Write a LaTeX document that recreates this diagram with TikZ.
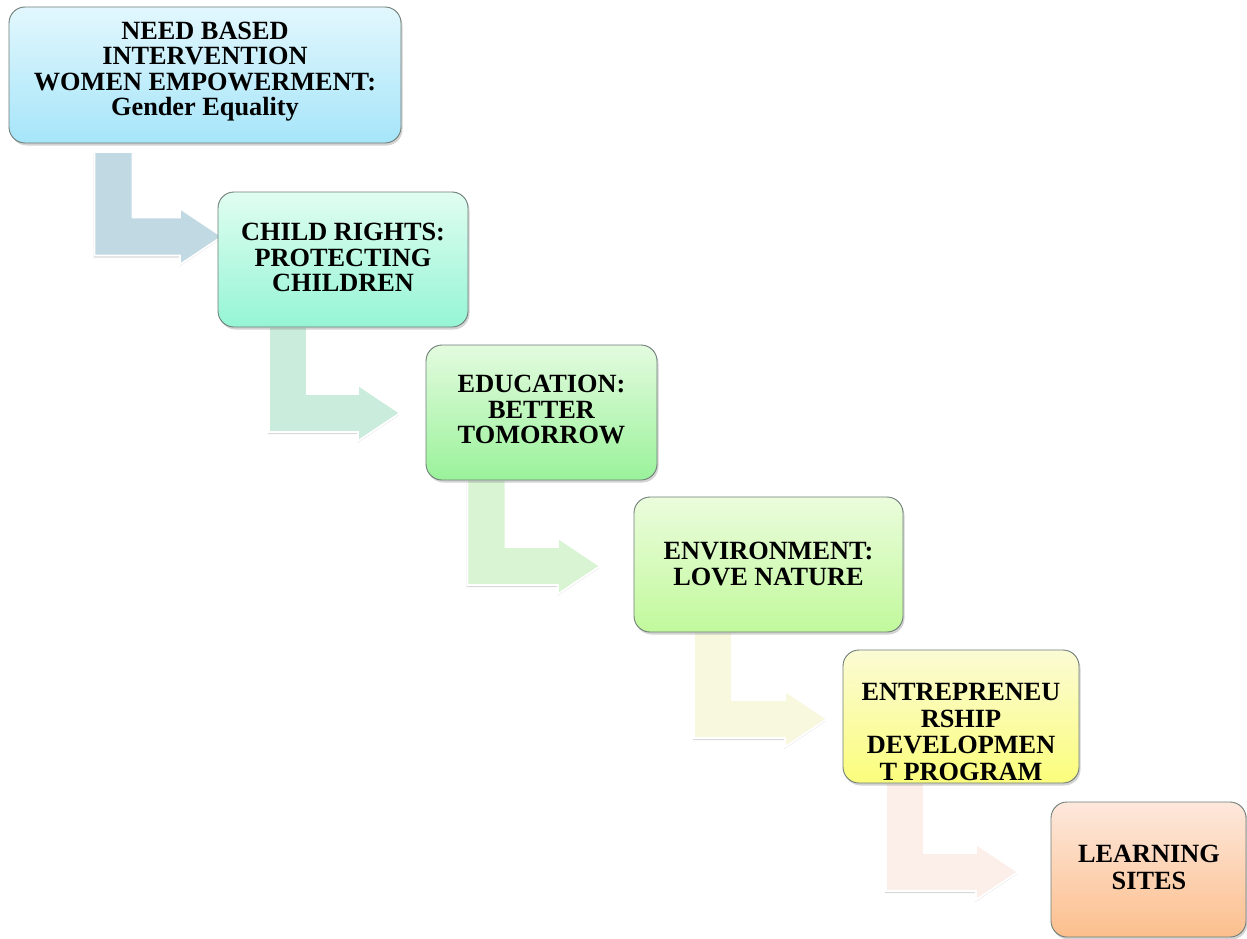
\documentclass[tikz,border=0pt]{standalone}
\usepackage{fontspec}
\setmainfont{Liberation Serif}
\usetikzlibrary{calc,shadows}
\pgfdeclarelayer{background}
\pgfsetlayers{background,main}
\definecolor{boxline}{HTML}{6E7D78}
\definecolor{aA}{HTML}{C0D9E2}
\definecolor{aB}{HTML}{C9ECDC}
\definecolor{aC}{HTML}{D9F4D3}
\definecolor{aD}{HTML}{F7F8DE}
\definecolor{aE}{HTML}{FCEFE9}
\definecolor{bAt}{HTML}{E2F7FD}\definecolor{bAb}{HTML}{A6E5F9}
\definecolor{bBt}{HTML}{E0FDF1}\definecolor{bBb}{HTML}{95F5D5}
\definecolor{bCt}{HTML}{E3FBDF}\definecolor{bCb}{HTML}{9AF29A}
\definecolor{bDt}{HTML}{EBFCDC}\definecolor{bDb}{HTML}{C1F99C}
\definecolor{bEt}{HTML}{FBFBD5}\definecolor{bEb}{HTML}{FBFD7C}
\definecolor{bFt}{HTML}{FDE8DC}\definecolor{bFb}{HTML}{FCBF8D}
\tikzset{
  box/.style={rectangle, rounded corners=16pt, draw=boxline, line width=0.9pt,
    outer sep=0pt, inner sep=0pt,
    drop shadow={opacity=0.35, shadow xshift=1.5pt, shadow yshift=-2.5pt}},
  txt/.style={anchor=north, align=center, inner sep=0pt,
    font=\fontsize{26.3}{25.5}\selectfont\bfseries},
  arrowbody/.style={draw=white, line width=1.8pt, line join=miter,
    drop shadow={opacity=0.3, shadow xshift=-0.8pt, shadow yshift=-2pt}}
}
\newcommand{\bentarrow}[3]{%
  \path[arrowbody, fill=#3] let \p1=#1, \p2=#2 in
    (\x1-19pt,\y1) -- (\x1+19pt,\y1) -- (\x1+19pt,\y2+19pt)
    -- (\x2-42pt,\y2+19pt) -- (\x2-42pt,\y2+28pt) -- (\x2,\y2)
    -- (\x2-42pt,\y2-28pt) -- (\x2-42pt,\y2-19pt) -- (\x1-19pt,\y2-19pt) -- cycle;}
\begin{document}
\begin{tikzpicture}[x=1pt, y=-1pt]
\useasboundingbox (0,0) rectangle (1247,939);
% boxes
\node[box, minimum width=392pt, minimum height=136pt, top color=bAt, bottom color=bAb] (b1) at (205,75) {};
\node[box, minimum width=250pt, minimum height=135pt, top color=bBt, bottom color=bBb] (b2) at (343,259.5) {};
\node[box, minimum width=231pt, minimum height=135pt, top color=bCt, bottom color=bCb] (b3) at (541.5,412.5) {};
\node[box, minimum width=269pt, minimum height=135pt, top color=bDt, bottom color=bDb] (b4) at (768.5,564.5) {};
\node[box, minimum width=236pt, minimum height=133pt, top color=bEt, bottom color=bEb] (b5) at (961,716.5) {};
\node[box, minimum width=195pt, minimum height=135pt, top color=bFt, bottom color=bFb] (b6) at (1148.5,869.5) {};
% texts
\node[txt, font=\fontsize{26.3}{25.2}\selectfont\bfseries] (t1) at (205,22) {NEED BASED\\INTERVENTION\\WOMEN EMPOWERMENT:\\Gender Equality};
\node[txt] (t2) at (343,223) {CHILD RIGHTS:\\PROTECTING\\CHILDREN};
\node[txt] (t3) at (541.5,375) {EDUCATION:\\BETTER\\TOMORROW};
\node[txt, font=\fontsize{26.3}{26.2}\selectfont\bfseries] (t4) at (768.5,542) {ENVIRONMENT:\\LOVE NATURE};
\node[txt, font=\fontsize{26.3}{26.7}\selectfont\bfseries] (t5) at (961,683) {ENTREPRENEU\\RSHIP\\DEVELOPMEN\\T PROGRAM};
\node[txt, font=\fontsize{26.3}{27}\selectfont\bfseries] (t6) at (1149,845) {LEARNING\\SITES};
% arrows
\begin{pgfonlayer}{background}
\bentarrow{($(b1.south west)+(104.5,9)$)}{($(b2.west)+(4,-23)$)}{aA}
\bentarrow{($(b2.south west)+(70,0)$)}{($(b3.west)+(-26,0.5)$)}{aB}
\bentarrow{($(b3.south west)+(60.5,0)$)}{($(b4.west)+(-34,1.5)$)}{aC}
\bentarrow{($(b4.south west)+(79,0)$)}{($(b5.west)+(-16,2.5)$)}{aD}
\bentarrow{($(b5.south west)+(62,0)$)}{($(b6.west)+(-33,2.5)$)}{aE}
\end{pgfonlayer}
\end{tikzpicture}
\end{document}
